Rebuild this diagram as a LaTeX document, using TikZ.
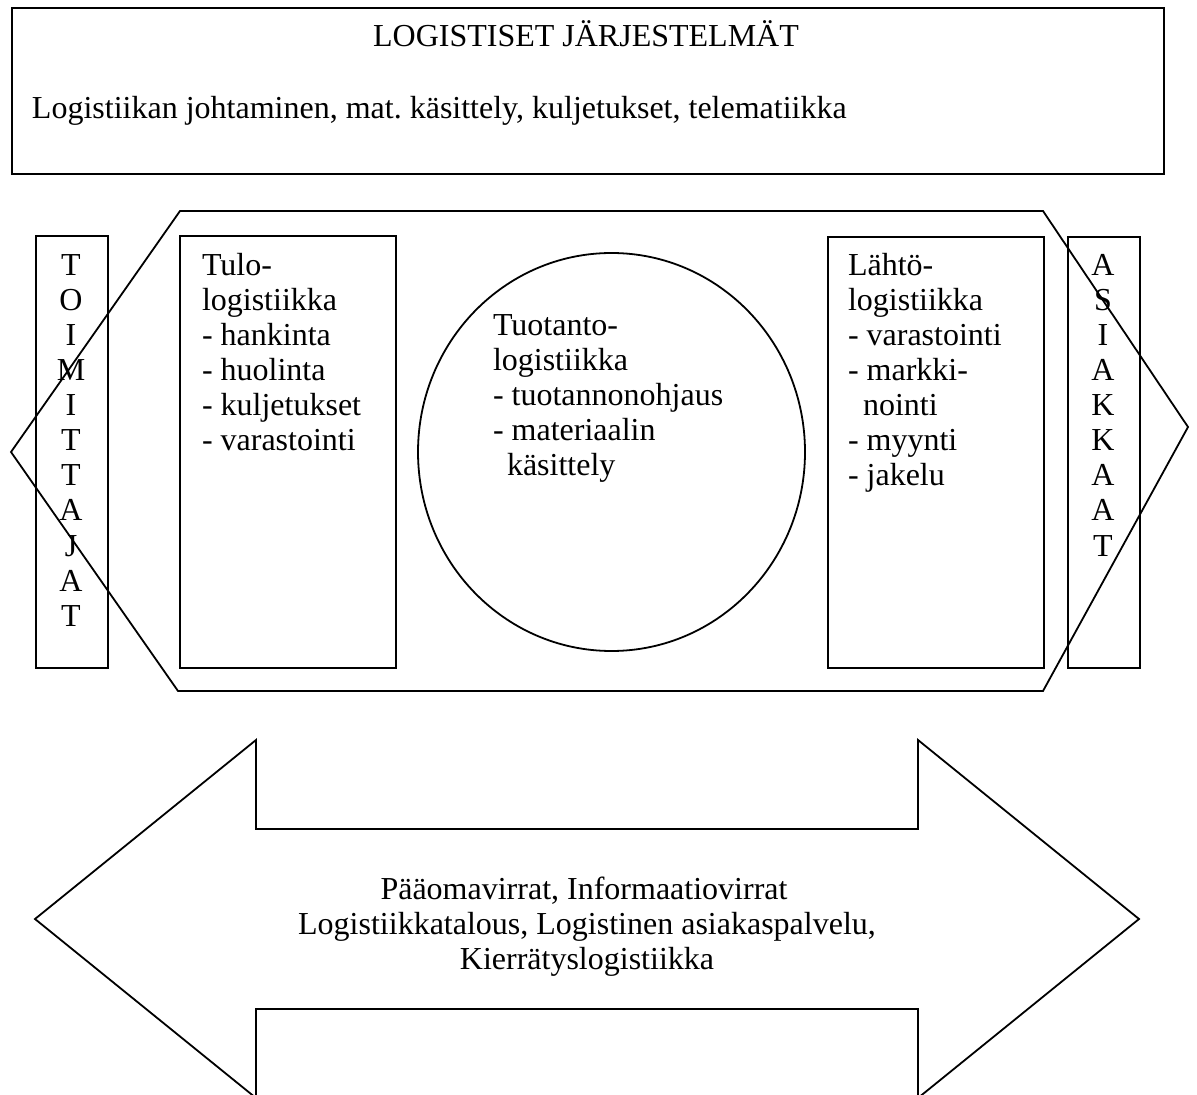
\documentclass[tikz,border=0pt]{standalone}
\usepackage{fontspec}
\setmainfont{Liberation Serif}
\usetikzlibrary{shapes.geometric}
\frenchspacing
\begin{document}
\begin{tikzpicture}[x=0.5pt,y=-0.5pt,
  line width=0.9pt,
  lbl/.style={anchor=base west,inner sep=0pt,outer sep=0pt,font=\fontsize{16}{17.5}\selectfont,align=left},
  ctr/.style={anchor=base,inner sep=0pt,outer sep=0pt,font=\fontsize{16}{17.5}\selectfont},
  frame/.style={draw,rectangle,inner sep=0pt,anchor=north west}]
\useasboundingbox (0,0) rectangle (1197,1095);
% top box
\node[frame,minimum width=576pt,minimum height=83pt] (top) at (11,7) {};
\node[ctr] (title) at (586,47) {LOGISTISET JÄRJESTELMÄT};
\node[lbl] (sub) at (32,119) {Logistiikan johtaminen, mat. käsittely, kuljetukset, telematiikka};
% hexagon
\draw (180,211) -- (1043,211) -- (1188,427) -- (1043,691) -- (178,691) -- (11,452) -- cycle;
% boxes
\node[frame,minimum width=36pt,minimum height=216pt] (toim) at (35,235) {};
\node[frame,minimum width=108pt,minimum height=216pt] (tulo) at (179,235) {};
\node[frame,minimum width=108pt,minimum height=215.5pt] (lahto) at (827,236) {};
\node[frame,minimum width=36pt,minimum height=215.5pt] (asiak) at (1067,236) {};
\node[draw,ellipse,inner sep=0pt,minimum width=193.5pt,minimum height=199pt] (tuot) at (611.5,452) {};
% vertical words
\foreach \c [count=\i from 0] in {T,O,I,M,I,T,T,A,J,A,T}
  \node[ctr] (toim\i) at (71,276+35*\i) {\c};
\foreach \c [count=\i from 0] in {A,S,I,A,K,K,A,A,T}
  \node[ctr] (asiak\i) at (1103,276+35*\i) {\c};
% Tulo text
\foreach \t [count=\i from 0] in {Tulo-,logistiikka,- hankinta,- huolinta,- kuljetukset,- varastointi}
  \node[lbl] (tulo\i) at (202,276+35*\i) {\t};
% Tuotanto text
\foreach \t [count=\i from 0] in {Tuotanto-,logistiikka,- tuotannonohjaus,- materiaalin}
  \node[lbl] (tuot\i) at (493,336+35*\i) {\t};
\node[lbl] (tuot4) at (507,476) {käsittely};
% Lahto text
\foreach \t [count=\i from 0] in {Lähtö-,logistiikka,- varastointi,- markki-}
  \node[lbl] (lahto\i) at (848,276+35*\i) {\t};
\node[lbl] (lahto4) at (863,416) {nointi};
\node[lbl] (lahto5) at (848,451) {- myynti};
\node[lbl] (lahto6) at (848,486) {- jakelu};
% double arrow
\draw (35,919) -- (256,740) -- (256,829) -- (918,829) -- (918,740) -- (1139,919)
  -- (918,1098) -- (918,1009) -- (256,1009) -- (256,1098) -- cycle;
\node[ctr] (arr1) at (584,899) {Pääomavirrat, Informaatiovirrat};
\node[ctr] (arr2) at (587,934) {Logistiikkatalous, Logistinen asiakaspalvelu,};
\node[ctr] (arr3) at (587,969) {Kierrätyslogistiikka};
\end{tikzpicture}
\end{document}
